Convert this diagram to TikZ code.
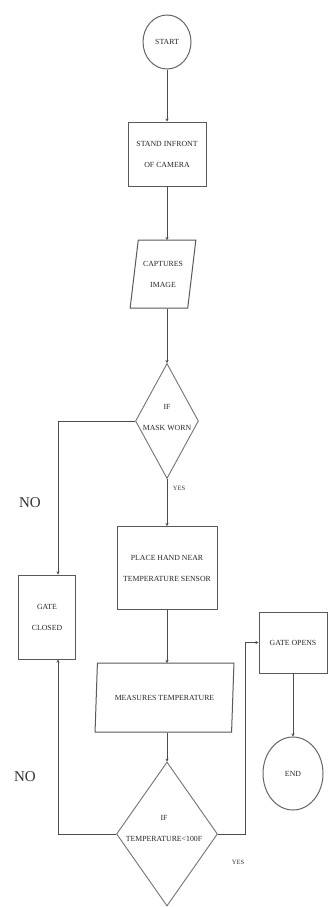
\documentclass[tikz,border=0pt]{standalone}
\usepackage{fontspec}
\setmainfont{Liberation Serif}
\usetikzlibrary{shapes.geometric,arrows.meta,calc}
\begin{document}
\begin{tikzpicture}[x=1pt,y=-1pt,
  every node/.style={text=black!85},
  lbl/.style={font=\fontsize{7.8}{21}\selectfont,align=center,inner sep=0pt},
  box/.style={lbl,draw=black!65,line width=1pt,rectangle},
  term/.style={lbl,draw=black!60,line width=1pt,ellipse},
  dec/.style={draw=black!55,line width=0.9pt,diamond,inner sep=0pt},
  io/.style={lbl,draw=black!65,line width=1pt,trapezium,trapezium stretches=true},
  arr/.style={draw=black!70,line width=0.9pt,-{Stealth[length=3pt,width=3pt]}},
  side/.style={font=\fontsize{15}{15}\selectfont,text=black!80,inner sep=0pt},
  yes/.style={font=\fontsize{6.5}{6.5}\selectfont,text=black!80,inner sep=0pt}]
\useasboundingbox[fill=white] (0,0) rectangle (329,907);

\node[term,minimum width=48,minimum height=54] (start) at (167,42) {START};
\node[box,minimum width=78,minimum height=64] (stand) at (167,154) {STAND INFRONT\\OF CAMERA};
\node[io,trapezium left angle=76,trapezium right angle=104,minimum width=66,minimum height=68] (cap) at (163,274) {CAPTURES\\IMAGE};
\node[dec,minimum width=63,minimum height=115] (d1) at (167,421) {};
\node[lbl] (d1t) at (167,418) {IF\\MASK WORN};
\node[box,minimum width=100,minimum height=83] (place) at (167,568) {PLACE HAND NEAR\\TEMPERATURE SENSOR};
\node[box,minimum width=57,minimum height=84] (gc) at (47,617) {GATE\\CLOSED};
\node[io,trapezium left angle=71.5,trapezium right angle=108.5,minimum width=139,minimum height=69] (meas) at (164.5,697.5) {MEASURES TEMPERATURE};
\node[dec,minimum width=101,minimum height=144] (d2) at (167,834) {};
\node[lbl] (d2t) at (164,828) {IF\\TEMPERATURE<100F};
\node[box,minimum width=68,minimum height=61] (go) at (293,642.5) {GATE OPENS};
\node[term,minimum width=60,minimum height=73] (end) at (293,773.5) {END};

\node[side] (no1) at (30,503) {NO};
\node[side] (no2) at (25,777) {NO};
\node[yes] (yes1) at (179,488) {YES};
\node[yes] (yes2) at (238,862) {YES};

\draw[arr] (start.south) -- (stand.north);
\draw[arr] (stand.south) -- (167,240);
\draw[arr] (cap.south -| 167,0) -- (d1.north);
\draw[arr] (d1.west) -| ([xshift=11]gc.north);
\draw[arr] (d1.south) -- (place.north);
\draw[arr] (place.south) -- (167,663);
\draw[arr] (meas.south -| 167,0) -- (d2.north);
\draw[arr] (d2.west) -| ([xshift=11]gc.south);
\draw[arr] (d2.east) -- ++(27,0) |- (go.west);
\draw[arr] (go.south) -- (end.north);
\end{tikzpicture}
\end{document}
